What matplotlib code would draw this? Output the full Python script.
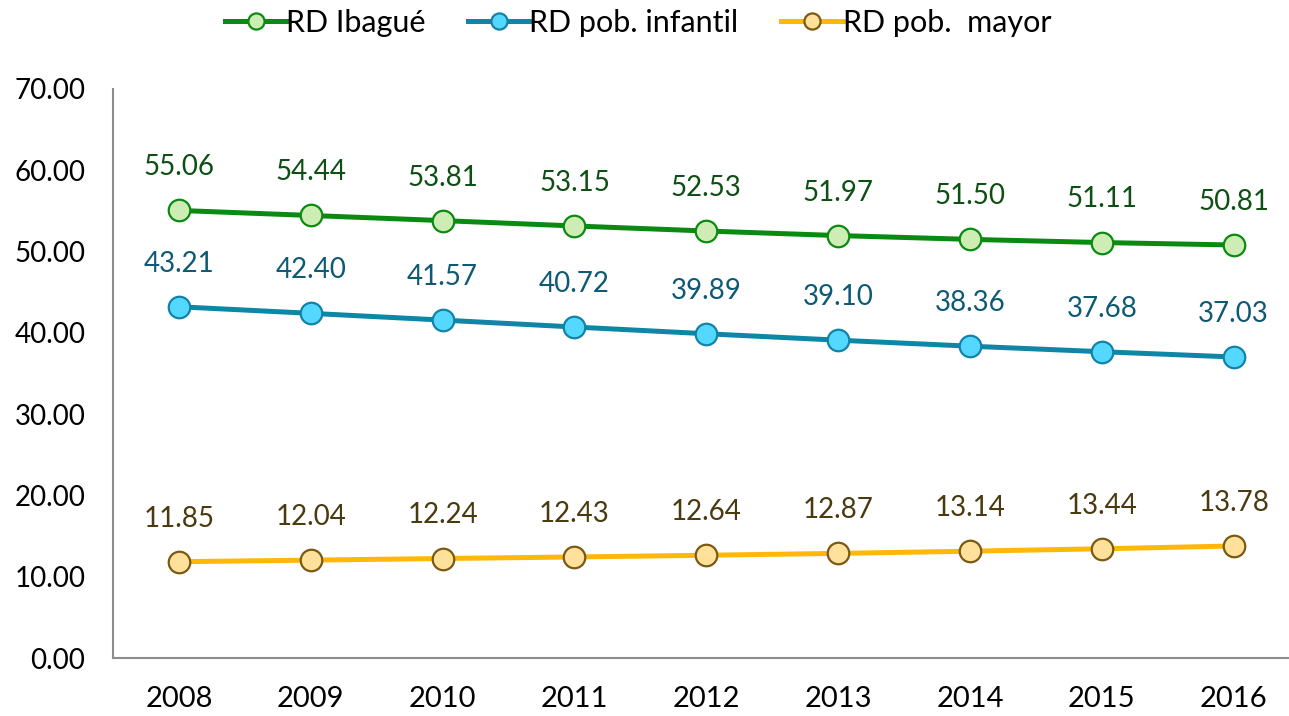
import numpy as np
import matplotlib.pyplot as plt

plt.rcParams['font.family'] = ['Lato', 'DejaVu Sans']

years = ['2008', '2009', '2010', '2011', '2012', '2013', '2014', '2015', '2016']
rd_ibague = [55.06, 54.44, 53.81, 53.15, 52.53, 51.97, 51.50, 51.11, 50.81]
rd_infantil = [43.21, 42.40, 41.57, 40.72, 39.89, 39.10, 38.36, 37.68, 37.03]
rd_mayor = [11.85, 12.04, 12.24, 12.43, 12.64, 12.87, 13.14, 13.44, 13.78]

series = [
    ('RD Ibagué', rd_ibague, '#0B8A12', '#CDEDB5', '#0B8A12', '#0E4F14'),
    ('RD pob. infantil', rd_infantil, '#0E86A6', '#55D8FF', '#1183A8', '#0E5A75'),
    ('RD pob.  mayor', rd_mayor, '#FFB70A', '#FFE19C', '#7A5A12', '#4A3A10'),
]

fig = plt.figure(figsize=(12.89, 7.16), dpi=100)
ax = fig.add_axes([0.0877, 0.081, 0.9123, 0.7947])
x = np.arange(len(years))

for name, vals, lc, fc, ec, tc in series:
    ax.plot(x, vals, color=lc, lw=3.6, marker='o', ms=15.5, mfc=fc, mec=ec,
            mew=1.6, label=name, zorder=3)
    for xi, v in zip(x, vals):
        ax.annotate(f'{v:.2f}', (xi, v), xytext=(0, 31), textcoords='offset points',
                    ha='center', va='center', fontsize=20, color=tc)

ax.set_ylim(0, 70)
ax.set_xlim(-0.5, 8.42)
ax.set_yticks(np.arange(0, 71, 10))
ax.set_yticklabels([f'{v:.2f}' for v in np.arange(0, 71, 10)])
ax.set_xticks(x)
ax.set_xticklabels(years)
ax.tick_params(axis='both', length=0, labelsize=20, colors='black')
ax.tick_params(axis='x', labelsize=21, pad=20)
ax.tick_params(axis='y', pad=20)
for s in ['top', 'right']:
    ax.spines[s].set_visible(False)
for s in ['left', 'bottom']:
    ax.spines[s].set_color('#8C8C8C')
    ax.spines[s].set_linewidth(1.5)

handles, labels = ax.get_legend_handles_labels()
fig.legend(handles, labels, loc='center', bbox_to_anchor=(638 / 1289, 1 - 23 / 716), ncol=3,
           frameon=False, fontsize=22, handlelength=2.0, handletextpad=0.0,
           columnspacing=1.4, markerscale=0.75)

fig.savefig('out.png', dpi=100)
